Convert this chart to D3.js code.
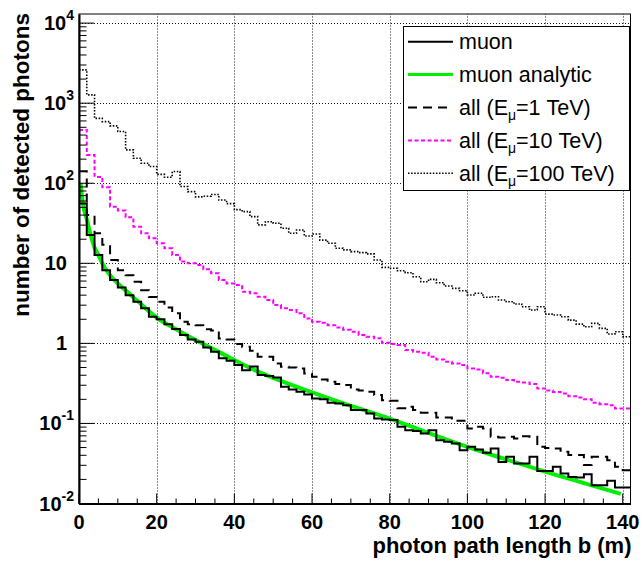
<!DOCTYPE html>
<html>
<head>
<meta charset="utf-8">
<script src="https://cdn.jsdelivr.net/npm/d3@7"></script>
<style>
  html, body { margin: 0; padding: 0; background: #fff; }
  svg { display: block; font-family: "Liberation Sans", Arial, Helvetica, sans-serif; }
</style>
</head>
<body>
<div id="chart"></div>
<script>
// histogram bins: 2 m wide, 0 .. 142 m
const binWidth = 2
const xMax = 142

// muon (solid black)
const muon = [
  56, 22.6, 12.7, 8.2, 6.2, 5.0, 4.0, 3.3, 2.74, 2.15,
  2.0, 1.73, 1.51, 1.27, 1.12, 1.05, 0.89, 0.785, 0.65, 0.605,
  0.535, 0.463, 0.513, 0.402, 0.39, 0.376, 0.288, 0.266, 0.248, 0.23,
  0.205, 0.2, 0.181, 0.178, 0.169, 0.147, 0.147, 0.133, 0.1155, 0.112,
  0.11, 0.0908, 0.0824, 0.0807, 0.075, 0.0824, 0.0618, 0.0589, 0.0562, 0.0463,
  0.051, 0.0473, 0.043, 0.0487, 0.0331, 0.0383, 0.0316, 0.0316, 0.0383, 0.0254,
  0.0254, 0.0287, 0.0237, 0.0215, 0.0211, 0.0232, 0.0169, 0.0169, 0.0192, 0.0158,
  0.0158
]

// all, E_mu = 1 TeV (black dashed)
const all1TeV = [
  141, 40, 23.7, 17, 11, 8.2, 7.1, 5.9, 4.6, 3.8,
  3.3, 2.8, 2.37, 1.86, 1.73, 1.69, 1.5, 1.45, 1.15, 1.12,
  0.98, 0.91, 0.81, 0.68, 0.68, 0.56, 0.51, 0.5, 0.487, 0.42,
  0.383, 0.355, 0.331, 0.31, 0.302, 0.266, 0.257, 0.248, 0.226, 0.195,
  0.192, 0.155, 0.162, 0.147, 0.136, 0.136, 0.119, 0.119, 0.108, 0.108,
  0.0866, 0.0908, 0.0866, 0.068, 0.0668, 0.068, 0.065, 0.0693, 0.068, 0.051,
  0.0495, 0.0487, 0.0442, 0.0402, 0.0402, 0.0302, 0.0383, 0.0383, 0.0348, 0.0287,
  0.0261
]

// all, E_mu = 10 TeV (magenta)
const all10TeV = [
  464, 226, 120, 89, 51, 45.7, 37.6, 28.6, 23.7, 20.5,
  17.8, 15.4, 12.7, 10.5, 10.0, 9.5, 8.4, 7.5, 6.2, 5.6,
  5.36, 4.42, 4.22, 3.83, 3.48, 3.01, 2.74, 2.61, 2.37, 2.05,
  1.86, 1.81, 1.69, 1.58, 1.48, 1.40, 1.27, 1.21, 1.155, 1.02,
  0.98, 0.953, 0.824, 0.785, 0.764, 0.68, 0.63, 0.589, 0.562, 0.535,
  0.487, 0.473, 0.422, 0.383, 0.372, 0.348, 0.331, 0.325, 0.31, 0.274,
  0.257, 0.247, 0.237, 0.219, 0.211, 0.2, 0.181, 0.174, 0.169, 0.154,
  0.154
]

// all, E_mu = 100 TeV (black dotted)
const all100TeV = [
  2610, 1270, 646, 589, 520, 442, 261, 205, 178, 162,
  129, 119, 140, 91, 78.5, 67.6, 68.7, 72.4, 61.7, 55.6,
  46.8, 44.2, 38.3, 30.2, 33.1, 31.6, 27.4, 23.7, 26.1, 21.9,
  23.2, 19.5, 17.8, 15.4, 14.7, 14.0, 13.6, 13.1, 11.0, 8.9,
  8.66, 8.08, 7.63, 6.8, 5.89, 6.3, 5.72, 5.2, 4.87, 4.55,
  4.02, 4.22, 3.76, 3.83, 3.48, 3.31, 3.1, 2.87, 2.61, 2.87,
  2.32, 2.26, 2.15, 1.95, 1.74, 1.61, 1.78, 1.54, 1.31, 1.40,
  1.21
]

// muon analytic (green curve)
const analyticX = [0.4, 1, 2, 3, 4, 5, 6, 8, 10, 12, 15, 20, 25, 30, 35, 40, 45, 50, 60, 70, 80, 90, 100, 110, 120, 130, 139.5]
const analyticY = [100, 56, 35.5, 22.6, 15.8, 12.7, 10, 7.1, 5.6, 4.6, 3.4, 2.1, 1.5, 1.1, 0.83, 0.62, 0.47, 0.37, 0.245, 0.166, 0.115, 0.076, 0.051, 0.0355, 0.025, 0.018, 0.0132]

const xTicks = [0, 20, 40, 60, 80, 100, 120, 140]
const yExponents = [-2, -1, 0, 1, 2, 3, 4]

const legendItems = [
  { label: "muon", sub: null, rest: null, series: "muon" },
  { label: "muon analytic", sub: null, rest: null, series: "analytic" },
  { label: "all (E", sub: "\u03bc", rest: "=1 TeV)", series: "all1" },
  { label: "all (E", sub: "\u03bc", rest: "=10 TeV)", series: "all10" },
  { label: "all (E", sub: "\u03bc", rest: "=100 TeV)", series: "all100" }
]

const styles = {
  muon: { color: "#000", width: 2, dash: null, legendWidth: 2 },
  analytic: { color: "#00ee00", width: 4, dash: null, legendWidth: 3 },
  all1: { color: "#000", width: 2, dash: "9,6", legendWidth: 2 },
  all10: { color: "#ff00ff", width: 2, dash: "4,2.5", legendWidth: 2 },
  all100: { color: "#000", width: 1.6, dash: "1.5,1.6", legendWidth: 1.6 }
}

const width = 644
const height = 562
const margin = { left: 79, right: 13.5, top: 14, bottom: 58.5 }

const svg = d3.select("#chart").append("svg")
  .attr("width", width)
  .attr("height", height)

const x = d3.scaleLinear()
  .domain([0, xMax])
  .range([margin.left, width - margin.right])

const y = d3.scaleLog()
  .domain([0.01, 13000])
  .range([height - margin.bottom, margin.top])

svg.append("defs").append("clipPath")
  .attr("id", "plotClip")
  .append("rect")
  .attr("x", margin.left)
  .attr("y", margin.top)
  .attr("width", x.range()[1] - margin.left)
  .attr("height", y.range()[0] - margin.top)

// grid
const grid = svg.append("g")
  .attr("stroke", "#000")
  .attr("stroke-width", 1)
  .attr("stroke-dasharray", "1,2")
  .attr("opacity", 0.9)

grid.selectAll(".vgrid")
  .data(xTicks.filter(d => d > 0))
  .enter().append("line")
  .attr("x1", d => Math.round(x(d)) + 0.5)
  .attr("x2", d => Math.round(x(d)) + 0.5)
  .attr("y1", y.range()[0])
  .attr("y2", margin.top)

grid.selectAll(".hgrid")
  .data(yExponents)
  .enter().append("line")
  .attr("x1", margin.left)
  .attr("x2", x.range()[1])
  .attr("y1", d => Math.round(y(Math.pow(10, d))) + 0.5)
  .attr("y2", d => Math.round(y(Math.pow(10, d))) + 0.5)

// histograms as step lines
function histPoints(values) {
  const pts = values.map((v, i) => [i * binWidth, v])
  pts.push([values.length * binWidth, values[values.length - 1]])
  return pts
}

const stepLine = d3.line()
  .x(d => x(d[0]))
  .y(d => y(d[1]))
  .curve(d3.curveStepAfter)

const smoothLine = d3.line()
  .x(d => x(d[0]))
  .y(d => y(d[1]))
  .curve(d3.curveMonotoneX)

const plot = svg.append("g").attr("clip-path", "url(#plotClip)")

function drawPath(data, gen, st) {
  const p = plot.append("path")
    .attr("d", gen(data))
    .attr("fill", "none")
    .attr("stroke", st.color)
    .attr("stroke-width", st.width)
    .attr("stroke-linejoin", "miter")
  if (st.dash) p.attr("stroke-dasharray", st.dash)
}

drawPath(histPoints(all100TeV), stepLine, styles.all100)
drawPath(histPoints(all10TeV), stepLine, styles.all10)
drawPath(histPoints(all1TeV), stepLine, styles.all1)
drawPath(analyticX.map((d, i) => [d, analyticY[i]]), smoothLine, styles.analytic)
drawPath(histPoints(muon), stepLine, styles.muon)

// frame
svg.append("rect")
  .attr("x", margin.left)
  .attr("y", margin.top)
  .attr("width", x.range()[1] - margin.left)
  .attr("height", y.range()[0] - margin.top)
  .attr("fill", "none")
  .attr("stroke", "#000")
  .attr("stroke-width", 1)

// axes
const xAxis = svg.append("g")
  .attr("transform", "translate(0," + y.range()[0] + ")")
  .call(d3.axisBottom(x).tickValues(xTicks).tickSize(0).tickFormat(""))
xAxis.select(".domain").attr("stroke-width", 2)

const xMinor = d3.range(0, xMax + 0.1, 5)
svg.append("g").selectAll("line")
  .data(xMinor)
  .enter().append("line")
  .attr("x1", d => x(d))
  .attr("x2", d => x(d))
  .attr("y1", y.range()[0])
  .attr("y2", d => y.range()[0] - (d % 20 === 0 ? 10 : 5))
  .attr("stroke", "#000")
  .attr("stroke-width", 1)

svg.append("g").selectAll("text")
  .data(xTicks)
  .enter().append("text")
  .attr("x", d => x(d))
  .attr("y", 528.5)
  .attr("text-anchor", "middle")
  .attr("font-size", 20)
  .attr("font-weight", "bold")
  .text(d => d)

const yAxis = svg.append("g")
  .attr("transform", "translate(" + margin.left + ",0)")
  .call(d3.axisLeft(y).tickValues([]).tickSize(0))
yAxis.select(".domain").attr("stroke-width", 2)

const yMinor = []
yExponents.forEach(e => {
  for (let k = 1; k <= 9; k++) {
    const v = k * Math.pow(10, e)
    if (v <= 13000) yMinor.push({ v: v, major: k === 1 })
  }
})
svg.append("g").selectAll("line")
  .data(yMinor)
  .enter().append("line")
  .attr("x1", margin.left)
  .attr("x2", d => margin.left + (d.major ? 15 : 7.5))
  .attr("y1", d => y(d.v))
  .attr("y2", d => y(d.v))
  .attr("stroke", "#000")
  .attr("stroke-width", 1)

const yLabels = svg.append("g")
  .attr("font-size", 20)
  .attr("font-weight", "bold")
yExponents.forEach(e => {
  const t = yLabels.append("text")
    .attr("y", y(Math.pow(10, e)) + 7)
    .attr("text-anchor", "end")
  if (e === 0 || e === 1) {
    t.attr("x", 67).text(e === 0 ? "1" : "10")
  } else {
    t.attr("x", 74)
    t.append("tspan").text("10")
    t.append("tspan")
      .attr("font-size", 14)
      .attr("dy", -10)
      .text(e)
  }
})

// axis titles
svg.append("text")
  .attr("x", x.range()[1] + 1)
  .attr("y", 553)
  .attr("text-anchor", "end")
  .attr("font-size", 22)
  .attr("font-weight", "bold")
  .text("photon path length b (m)")

svg.append("text")
  .attr("transform", "translate(29,13) rotate(-90)")
  .attr("text-anchor", "end")
  .attr("font-size", 22.5)
  .attr("font-weight", "bold")
  .text("number of detected photons")

// legend
const legend = svg.append("g")
legend.append("rect")
  .attr("x", 403.5)
  .attr("y", 26.5)
  .attr("width", 226)
  .attr("height", 164)
  .attr("fill", "#fff")
  .attr("stroke", "#000")
  .attr("stroke-width", 1)

legendItems.forEach((item, i) => {
  const cy = 41.7 + i * 32.9
  const st = styles[item.series]
  const ln = legend.append("line")
    .attr("x1", 408)
    .attr("x2", 453)
    .attr("y1", cy)
    .attr("y2", cy)
    .attr("stroke", st.color)
    .attr("stroke-width", st.legendWidth)
  if (st.dash) ln.attr("stroke-dasharray", st.dash)

  const t = legend.append("text")
    .attr("x", 459)
    .attr("y", cy + 7.5)
    .attr("font-size", 21.5)
  t.append("tspan").text(item.label)
  if (item.sub) {
    t.append("tspan").attr("font-size", 14).attr("dy", 5).text(item.sub)
    t.append("tspan").attr("dy", -5).text(item.rest)
  }
})
</script>
</body>
</html>
